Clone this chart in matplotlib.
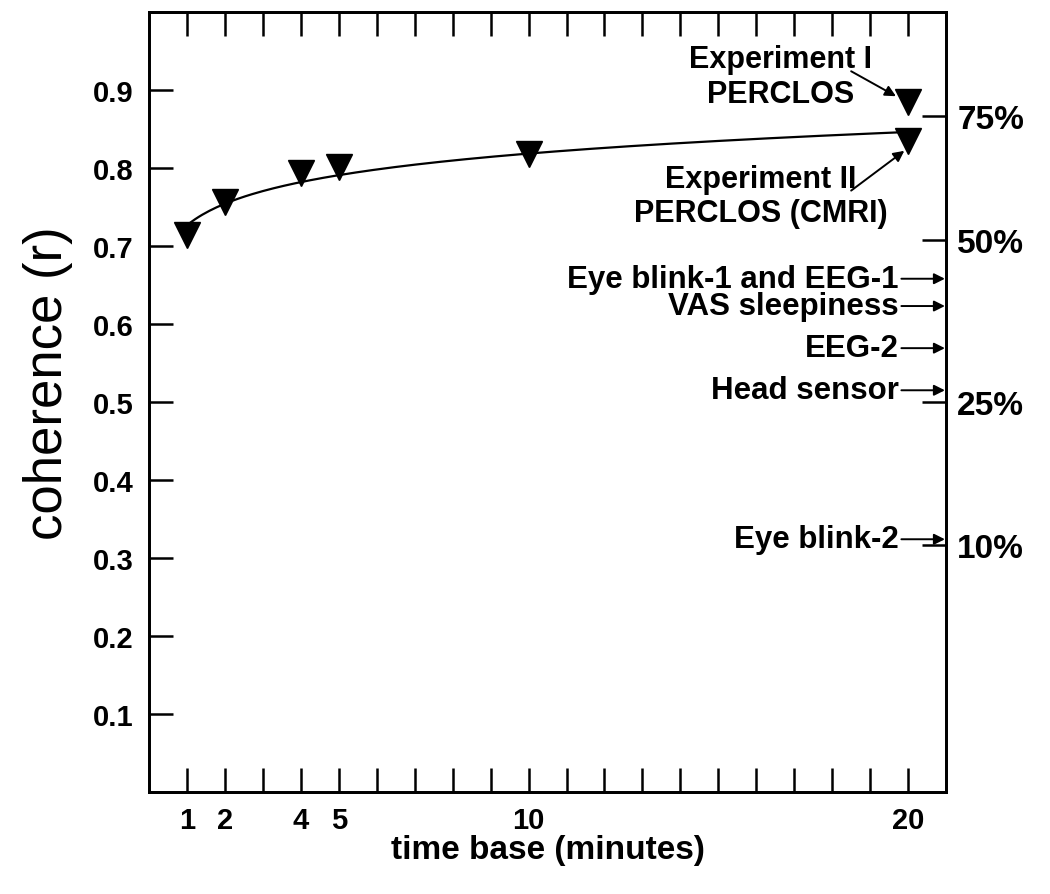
import matplotlib
matplotlib.use("Agg")
import matplotlib.pyplot as plt
import numpy as np

plt.rcParams['font.family'] = ['Liberation Sans', 'DejaVu Sans']

# time base (minutes) and coherence of the markers
time_base = [1, 2, 4, 5, 10, 20]
coherence = [0.714, 0.756, 0.794, 0.801, 0.818, 0.835]
exp1_time = 20
exp1_coherence = 0.885

# range of the log fit drawn through the markers
fit_start, fit_end = 1.03, 19.7

# right axis: percent of variance explained (r^2)
pct_levels = [75, 50, 25, 10]
pct_labels = ['75%', '50%', '25%', '10%']

# other measures, pointed at the right axis
side_names = ['Eye blink-1 and EEG-1', 'VAS sleepiness', 'EEG-2', 'Head sensor', 'Eye blink-2']
side_values = [0.658, 0.623, 0.569, 0.515, 0.324]

xtick_vals = [1, 2, 4, 5, 10, 20]
ytick_vals = [0.1, 0.2, 0.3, 0.4, 0.5, 0.6, 0.7, 0.8, 0.9]

fig = plt.figure(figsize=(10.5, 8.95), dpi=100)
ax = fig.add_axes([0.1419, 0.114, 0.901 - 0.1419, 0.9855 - 0.114])

# log fit
b, a = np.polyfit(np.log(time_base), coherence, 1)
xf = np.linspace(fit_start, fit_end, 200)
ax.plot(xf, a + b * np.log(xf), color='black', lw=1.6, zorder=2)

ax.plot(time_base, coherence, 'v', color='black', ms=19, zorder=3)
ax.plot([exp1_time], [exp1_coherence], 'v', color='black', ms=19, zorder=3)

ax.set_xlim(0, 21)
ax.set_ylim(0, 1.0)

ax.set_xticks(xtick_vals)
ax.set_xticklabels([str(v) for v in xtick_vals])
ax.set_xticks(np.arange(1, 21), minor=True)
ax.set_yticks(ytick_vals)
ax.set_yticklabels([f'{v:.1f}' for v in ytick_vals])

for sp in ax.spines.values():
    sp.set_linewidth(2)

ax.tick_params(axis='x', which='both', direction='in', length=17, width=1.8,
               top=True, bottom=True, pad=10, labelsize=21)
ax.tick_params(axis='y', which='both', direction='in', length=17, width=1.8,
               right=False, pad=11, labelsize=21)
for lab in ax.get_xticklabels() + ax.get_yticklabels():
    lab.set_fontweight('bold')

ax.set_xlabel('time base (minutes)', fontsize=24, fontweight='bold', labelpad=0)
ax.set_ylabel('coherence (r)', fontsize=38)
ax.yaxis.set_label_coords(-0.095, 0.525)

# right axis with r^2 percent
ax2 = ax.twinx()
ax2.set_ylim(ax.get_ylim())
ax2.set_yticks(np.sqrt(np.array(pct_levels) / 100.0))
ax2.set_yticklabels(pct_labels)
ax2.tick_params(axis='y', direction='in', length=17, width=1.8, pad=8, labelsize=24)
for lab in ax2.get_yticklabels():
    lab.set_fontweight('bold')
for sp in ax2.spines.values():
    sp.set_linewidth(2)

arrow = dict(arrowstyle='-|>', color='black', lw=1.4, mutation_scale=16, shrinkA=0, shrinkB=0)

# experiment labels
ax.text(16.65, 0.917, 'Experiment I\nPERCLOS', ha='center', va='center',
        fontsize=22, fontweight='bold', linespacing=1.2)
ax.annotate('', xy=(19.68, 0.892), xytext=(18.5, 0.924), arrowprops=arrow)
ax.text(16.12, 0.764, 'Experiment II\nPERCLOS (CMRI)', ha='center', va='center',
        fontsize=22, fontweight='bold', linespacing=1.2)
ax.annotate('', xy=(19.9, 0.822), xytext=(18.5, 0.771), arrowprops=arrow)

for name, val in zip(side_names, side_values):
    ax.annotate(name, xy=(20.97, val), xytext=(19.75, val),
                ha='right', va='center', fontsize=22.5, fontweight='bold',
                arrowprops=dict(arrow, relpos=(1.0, 0.5)))

fig.savefig('out.png', dpi=100)
